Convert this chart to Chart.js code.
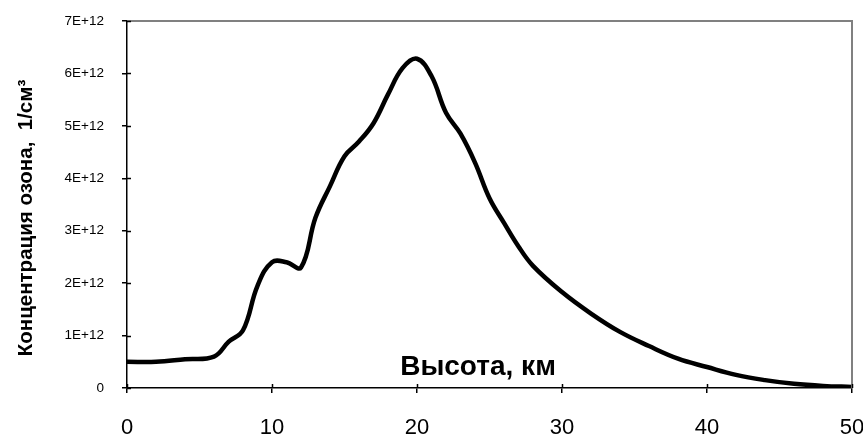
<!DOCTYPE html>
<html>
<head>
<meta charset="utf-8">
<script src="https://cdn.jsdelivr.net/npm/chart.js@4"></script>
<style>
  body { margin: 0; background: #fff; }
  canvas { display: block; }
</style>
</head>
<body>
<canvas id="ozone" width="863" height="435"></canvas>
<script>
// data
const heights = [0, 2, 4, 6, 7, 8, 9, 10, 11, 12, 13, 14, 15, 16, 17, 18, 19, 20, 21, 22, 23, 24, 25, 26, 27, 28, 30, 32, 34, 36, 38, 40, 42, 44, 46, 48, 50];
const conc = [0.50, 0.50, 0.55, 0.60, 0.88, 1.10, 1.95, 2.40, 2.40, 2.30, 3.25, 3.85, 4.42, 4.70, 5.05, 5.60, 6.10, 6.28, 5.95, 5.25, 4.85, 4.30, 3.62, 3.15, 2.70, 2.33, 1.83, 1.42, 1.07, 0.80, 0.56, 0.40, 0.25, 0.15, 0.08, 0.04, 0.02];
const xTicks = [0, 10, 20, 30, 40, 50];
const yMax = 7e12;

const xTitle = 'Высота, км';
const yTitle = 'Концентрация озона,  1/см³';

const points = heights.map((h, i) => ({ x: h, y: conc[i] * 1e12 }));

// ticks that cross the axes + gray top/right frame + titles
const decor = {
  id: 'decor',
  afterDraw(chart) {
    const { ctx, chartArea: a, scales } = chart;
    ctx.save();
    ctx.strokeStyle = '#808080';
    ctx.lineWidth = 2;
    ctx.beginPath();
    ctx.moveTo(a.left, a.top);
    ctx.lineTo(a.right, a.top);
    ctx.lineTo(a.right, a.bottom);
    ctx.stroke();

    ctx.strokeStyle = '#000';
    ctx.lineWidth = 1.5;
    ctx.beginPath();
    scales.y.ticks.forEach(t => {
      const y = Math.round(scales.y.getPixelForValue(t.value)) + 0.5;
      ctx.moveTo(a.left, y);
      ctx.lineTo(a.left + 4, y);
    });
    scales.x.ticks.forEach(t => {
      const x = Math.round(scales.x.getPixelForValue(t.value)) + 0.5;
      ctx.moveTo(x, a.bottom);
      ctx.lineTo(x, a.bottom - 4);
    });
    ctx.stroke();

    ctx.fillStyle = '#000';
    ctx.font = 'bold 28px "Liberation Sans", Arial, sans-serif';
    ctx.textAlign = 'center';
    ctx.textBaseline = 'alphabetic';
    ctx.fillText(xTitle, 478, 375);

    ctx.translate(26, 218);
    ctx.rotate(-Math.PI / 2);
    ctx.font = 'bold 20.5px "Liberation Sans", Arial, sans-serif';
    ctx.textBaseline = 'middle';
    ctx.fillText(yTitle, 0, 0);
    ctx.restore();
  }
};

new Chart(document.getElementById('ozone'), {
  type: 'line',
  data: {
    datasets: [{
      data: points,
      borderColor: '#000',
      borderWidth: 4.5,
      pointRadius: 0,
      tension: 0.4,
      fill: false
    }]
  },
  options: {
    responsive: false,
    animation: false,
    layout: { padding: { top: 21, right: 11, left: 0, bottom: 0 } },
    plugins: { legend: { display: false }, tooltip: { enabled: false } },
    scales: {
      x: {
        type: 'linear',
        min: 0,
        max: 50,
        afterBuildTicks: s => { s.ticks = xTicks.map(v => ({ value: v })); },
        afterFit: s => { s.height = 47; s.paddingLeft = 0; s.paddingRight = 0; },
        border: { color: '#000', width: 1.5 },
        grid: { drawOnChartArea: false, drawTicks: true, tickLength: 5, color: '#000', lineWidth: 1.5 },
        ticks: {
          color: '#000',
          padding: 22,
          maxRotation: 0,
          font: { family: '"Liberation Sans", Arial, sans-serif', size: 22 }
        }
      },
      y: {
        min: 0,
        max: yMax,
        afterFit: s => { s.width = 127; s.paddingTop = 0; s.paddingBottom = 0; },
        border: { color: '#000', width: 1.5 },
        grid: { drawOnChartArea: false, drawTicks: true, tickLength: 5, color: '#000', lineWidth: 1.5 },
        ticks: {
          stepSize: 1e12,
          color: '#000',
          padding: 18,
          font: { family: '"Liberation Sans", Arial, sans-serif', size: 13.5 },
          callback: v => v === 0 ? '0' : (v / 1e12) + 'E+12'
        }
      }
    }
  },
  plugins: [decor]
});
</script>
</body>
</html>
